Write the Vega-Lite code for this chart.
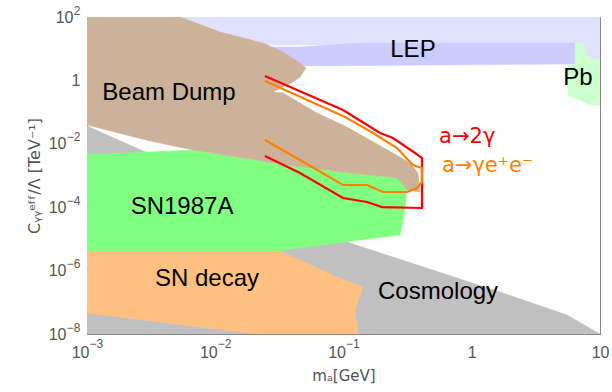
{
  "$schema": "https://vega.github.io/schema/vega-lite/v6.json",
  "width": 513,
  "height": 317,
  "autosize": {"type": "none"},
  "padding": {"left": 87, "top": 17, "right": 12, "bottom": 58},
  "background": "white",
  "config": {
    "view": {"stroke": "#888888", "strokeWidth": 1},
    "font": "Liberation Sans"
  },
  "resolve": {"axis": {"x": "independent", "y": "independent"}},
  "datasets": {
    "poly": [
      {"r": "Cosmology", "i": 1, "x": 0.001, "y": 0.0365},
      {"r": "Cosmology", "i": 2, "x": 0.1124, "y": 7.43e-6},
      {"r": "Cosmology", "i": 3, "x": 1.66, "y": 2.11e-7},
      {"r": "Cosmology", "i": 4, "x": 5.53, "y": 3.97e-8},
      {"r": "Cosmology", "i": 5, "x": 10, "y": 1e-8},
      {"r": "Cosmology", "i": 6, "x": 0.001, "y": 1e-8},

      {"r": "SNdecay", "i": 1, "x": 0.001, "y": 4.47e-6},
      {"r": "SNdecay", "i": 2, "x": 0.0303, "y": 4.47e-6},
      {"r": "SNdecay", "i": 3, "x": 0.0458, "y": 2.16e-6},
      {"r": "SNdecay", "i": 4, "x": 0.0889, "y": 6.28e-7},
      {"r": "SNdecay", "i": 5, "x": 0.1419, "y": 3.04e-7},
      {"r": "SNdecay", "i": 6, "x": 0.123, "y": 5.71e-8},
      {"r": "SNdecay", "i": 7, "x": 0.1298, "y": 1e-8},
      {"r": "SNdecay", "i": 8, "x": 0.0204, "y": 1e-8},
      {"r": "SNdecay", "i": 9, "x": 0.001, "y": 4.59e-8},

      {"r": "SN1987A", "i": 1, "x": 0.001, "y": 4.76e-3},
      {"r": "SN1987A", "i": 2, "x": 0.00138, "y": 4.76e-3},
      {"r": "SN1987A", "i": 3, "x": 0.00671, "y": 6.37e-3},
      {"r": "SN1987A", "i": 4, "x": 0.032, "y": 2.31e-3},
      {"r": "SN1987A", "i": 5, "x": 0.0939, "y": 1.29e-3},
      {"r": "SN1987A", "i": 6, "x": 0.261, "y": 8.34e-4},
      {"r": "SN1987A", "i": 7, "x": 0.313, "y": 4.33e-4},
      {"r": "SN1987A", "i": 8, "x": 0.302, "y": 8.16e-5},
      {"r": "SN1987A", "i": 9, "x": 0.276, "y": 1.33e-5},
      {"r": "SN1987A", "i": 10, "x": 0.1346, "y": 9.23e-6},
      {"r": "SN1987A", "i": 11, "x": 0.0458, "y": 5.17e-6},
      {"r": "SN1987A", "i": 12, "x": 0.0303, "y": 4.15e-6},
      {"r": "SN1987A", "i": 13, "x": 0.001, "y": 4.15e-6},

      {"r": "LEPlight", "i": 1, "x": 0.0031, "y": 100},
      {"r": "LEPlight", "i": 2, "x": 10, "y": 100},
      {"r": "LEPlight", "i": 3, "x": 10, "y": 3.8},
      {"r": "LEPlight", "i": 4, "x": 7.64, "y": 6.33},
      {"r": "LEPlight", "i": 5, "x": 7.24, "y": 13.1},
      {"r": "LEPlight", "i": 6, "x": 0.0031, "y": 13.1},

      {"r": "LEPdark", "i": 1, "x": 0.0109, "y": 11.3},
      {"r": "LEPdark", "i": 2, "x": 0.0458, "y": 11.3},
      {"r": "LEPdark", "i": 3, "x": 0.1346, "y": 15.1},
      {"r": "LEPdark", "i": 4, "x": 6.38, "y": 15.1},
      {"r": "LEPdark", "i": 5, "x": 6.38, "y": 3.29},
      {"r": "LEPdark", "i": 6, "x": 0.0458, "y": 2.85},
      {"r": "LEPdark", "i": 7, "x": 0.0109, "y": 2.85},

      {"r": "Pb", "i": 1, "x": 6.38, "y": 15.1},
      {"r": "Pb", "i": 2, "x": 7.37, "y": 15.1},
      {"r": "Pb", "i": 3, "x": 7.92, "y": 5.47},
      {"r": "Pb", "i": 4, "x": 10, "y": 4.4},
      {"r": "Pb", "i": 5, "x": 10, "y": 0.1675},
      {"r": "Pb", "i": 6, "x": 8.36, "y": 0.1675},
      {"r": "Pb", "i": 7, "x": 5.63, "y": 0.346},
      {"r": "Pb", "i": 8, "x": 5.63, "y": 3.06},
      {"r": "Pb", "i": 9, "x": 6.38, "y": 3.06},

      {"r": "BeamDump", "i": 1, "x": 0.001, "y": 100},
      {"r": "BeamDump", "i": 2, "x": 0.00531, "y": 100},
      {"r": "BeamDump", "i": 3, "x": 0.0109, "y": 33.6},
      {"r": "BeamDump", "i": 4, "x": 0.0236, "y": 15.1},
      {"r": "BeamDump", "i": 5, "x": 0.0338, "y": 7.87},
      {"r": "BeamDump", "i": 6, "x": 0.0458, "y": 3.54},
      {"r": "BeamDump", "i": 7, "x": 0.051, "y": 2.46},
      {"r": "BeamDump", "i": 8, "x": 0.0458, "y": 1.28},
      {"r": "BeamDump", "i": 9, "x": 0.0404, "y": 0.891},
      {"r": "BeamDump", "i": 10, "x": 0.0282, "y": 0.43},
      {"r": "BeamDump", "i": 11, "x": 0.0338, "y": 0.401},
      {"r": "BeamDump", "i": 12, "x": 0.0621, "y": 0.0937},
      {"r": "BeamDump", "i": 13, "x": 0.1065, "y": 0.0339},
      {"r": "BeamDump", "i": 14, "x": 0.161, "y": 0.01318},
      {"r": "BeamDump", "i": 15, "x": 0.243, "y": 5.13e-3},
      {"r": "BeamDump", "i": 16, "x": 0.33, "y": 2.48e-3},
      {"r": "BeamDump", "i": 17, "x": 0.381, "y": 1.2e-3},
      {"r": "BeamDump", "i": 18, "x": 0.395, "y": 3.02e-4},
      {"r": "BeamDump", "i": 19, "x": 0.313, "y": 3.49e-4},
      {"r": "BeamDump", "i": 20, "x": 0.261, "y": 8.34e-4},
      {"r": "BeamDump", "i": 21, "x": 0.0939, "y": 1.29e-3},
      {"r": "BeamDump", "i": 22, "x": 0.032, "y": 2.31e-3},
      {"r": "BeamDump", "i": 23, "x": 0.00671, "y": 6.37e-3},
      {"r": "BeamDump", "i": 24, "x": 0.0031, "y": 0.01225},
      {"r": "BeamDump", "i": 25, "x": 0.001, "y": 0.0392}
    ],
    "lines": [
      {"s": "a2g", "i": 1, "x": 0.0244, "y": 1.38},
      {"s": "a2g", "i": 2, "x": 0.0991, "y": 0.1164},
      {"s": "a2g", "i": 3, "x": 0.1927, "y": 0.0219},
      {"s": "a2g", "i": 4, "x": 0.243, "y": 0.01524},
      {"s": "a2g", "i": 5, "x": 0.361, "y": 5.13e-3},
      {"s": "a2g", "i": 6, "x": 0.409, "y": 3.57e-3},
      {"s": "a2g", "i": 7, "x": 0.409, "y": 9.44e-5},
      {"s": "a2g", "i": 8, "x": 0.1997, "y": 1.01e-4},
      {"s": "a2g", "i": 9, "x": 0.1525, "y": 1.46e-4},
      {"s": "a2g", "i": 10, "x": 0.0991, "y": 1.95e-4},
      {"s": "a2g", "i": 11, "x": 0.0458, "y": 1.2e-3},
      {"s": "a2g", "i": 12, "x": 0.0244, "y": 4.12e-3},

      {"s": "agee", "i": 1, "x": 0.0244, "y": 0.957},
      {"s": "agee", "i": 2, "x": 0.1028, "y": 0.07},
      {"s": "agee", "i": 3, "x": 0.17, "y": 0.0219},
      {"s": "agee", "i": 4, "x": 0.261, "y": 7.37e-3},
      {"s": "agee", "i": 5, "x": 0.348, "y": 2.14e-3},
      {"s": "agee", "i": 6, "x": 0.409, "y": 1.72e-3},
      {"s": "agee", "i": 7, "x": 0.409, "y": 6.23e-4},
      {"s": "agee", "i": 8, "x": 0.374, "y": 4.03e-4},
      {"s": "agee", "i": 9, "x": 0.313, "y": 3.02e-4},
      {"s": "agee", "i": 10, "x": 0.203, "y": 3.02e-4},
      {"s": "agee", "i": 11, "x": 0.1525, "y": 5.01e-4},
      {"s": "agee", "i": 12, "x": 0.0991, "y": 5.01e-4},
      {"s": "agee", "i": 13, "x": 0.0458, "y": 3.08e-3},
      {"s": "agee", "i": 14, "x": 0.0244, "y": 0.01318}
    ],
    "labels": [
      {"t": "Beam Dump", "x": 0.00436, "y": 0.241},
      {"t": "SN1987A", "x": 0.00551, "y": 6.1e-5},
      {"t": "SN decay", "x": 0.00863, "y": 3.27e-7},
      {"t": "Cosmology", "x": 0.546, "y": 1.27e-7},
      {"t": "LEP", "x": 0.348, "y": 5.47},
      {"t": "Pb", "x": 6.73, "y": 0.716}
    ],
    "siglabels": [
      {"t": "a→2γ", "s": "a2g", "x": 0.556, "y": 0.01059},
      {"t": "a→γe⁺e⁻", "s": "agee", "x": 0.586, "y": 0.00129}
    ]
  },
  "encoding": {
    "x": {"field": "x", "type": "quantitative", "scale": {"type": "log", "domain": [0.001, 10]}, "axis": null},
    "y": {"field": "y", "type": "quantitative", "scale": {"type": "log", "domain": [1e-8, 100]}, "axis": null}
  },
  "layer": [
    {"data": {"name": "poly"}, "transform": [{"filter": "datum.r == 'Cosmology'"}],
     "mark": {"type": "line", "interpolate": "linear-closed", "fill": "#c0c0c0", "stroke": "#c0c0c0", "strokeWidth": 0.5, "clip": true},
     "encoding": {
       "order": {"field": "i", "type": "quantitative"},
       "x": {
         "field": "x", "type": "quantitative",
         "scale": {"type": "log", "domain": [0.001, 10]},
         "axis": {
           "orient": "bottom",
           "values": [0.001, 0.01, 0.1, 1, 10],
           "labelExpr": "datum.value > 0.5 && datum.value < 5 ? '1' : '10'",
           "labelAlign": "right",
           "labelOffset": {"condition": [{"test": "datum.value > 5", "value": 9}, {"test": "datum.value > 0.5", "value": 4.5}], "value": 2},
           "title": "mₐ[GeV]",
           "grid": false,
           "tickSize": -6,
           "labelPadding": 16,
           "domainColor": "#888888",
           "tickColor": "#888888",
           "labelColor": "#555555",
           "labelFontSize": 16,
           "labelFont": "Liberation Sans",
           "titleFont": "DejaVu Sans",
           "titleFontSize": 15,
           "titleFontWeight": "normal",
           "titleColor": "#555555",
           "titlePadding": 8
         }
       },
       "y": {
         "field": "y", "type": "quantitative",
         "scale": {"type": "log", "domain": [1e-8, 100]},
         "axis": {
           "orient": "left",
           "values": [1e-8, 1e-6, 1e-4, 1e-2, 1, 100],
           "labelExpr": "datum.value > 0.5 && datum.value < 50 ? '1' : '10'",
           "labelAlign": "right",
           "labelPadding": {"condition": [{"test": "datum.value > 50", "value": 20}, {"test": "datum.value > 0.5", "value": 13}], "value": 27},
           "title": "Cᵧᵧᵉᶠᶠ/Λ [TeV⁻¹]",
           "grid": false,
           "tickSize": -6,
           "domainColor": "#888888",
           "tickColor": "#888888",
           "labelColor": "#555555",
           "labelFontSize": 16,
           "labelFont": "Liberation Sans",
           "titleFont": "DejaVu Sans",
           "titleFontSize": 16,
           "titleFontWeight": "normal",
           "titleColor": "#555555",
           "titlePadding": 6
         }
       }
     }},
    {"data": {"name": "poly"}, "transform": [{"filter": "datum.r == 'SNdecay'"}],
     "mark": {"type": "line", "interpolate": "linear-closed", "fill": "#ffc080", "stroke": "#ffc080", "strokeWidth": 0.5, "clip": true},
     "encoding": {
       "order": {"field": "i", "type": "quantitative"},
       "x": {
         "field": "x", "type": "quantitative",
         "scale": {"type": "log", "domain": [0.001, 10]},
         "axis": {
           "orient": "bottom",
           "values": [0.001, 0.01, 0.1],
           "labelExpr": "datum.value < 0.005 ? '−3' : datum.value < 0.05 ? '−2' : '−1'",
           "labelAlign": "left",
           "labelOffset": 2,
           "labelPadding": 4,
           "ticks": false,
           "tickSize": 0,
           "domain": false,
           "grid": false,
           "title": null,
           "labelColor": "#555555",
           "labelFontSize": 12,
           "labelFont": "Liberation Sans"
         }
       },
       "y": {
         "field": "y", "type": "quantitative",
         "scale": {"type": "log", "domain": [1e-8, 100]},
         "axis": {
           "orient": "left",
           "values": [1e-8, 1e-6, 1e-4, 1e-2, 100],
           "labelExpr": "datum.value > 50 ? '2' : datum.value > 0.005 ? '−2' : datum.value > 5e-5 ? '−4' : datum.value > 5e-7 ? '−6' : '−8'",
           "labelAlign": "right",
           "labelPadding": 7,
           "labelOffset": -7,
           "ticks": false,
           "tickSize": 0,
           "domain": false,
           "grid": false,
           "title": null,
           "labelColor": "#555555",
           "labelFontSize": 12,
           "labelFont": "Liberation Sans"
         }
       }
     }},
    {"data": {"name": "poly"}, "transform": [{"filter": "datum.r == 'SN1987A'"}],
     "mark": {"type": "line", "interpolate": "linear-closed", "fill": "#80ff80", "stroke": "#80ff80", "strokeWidth": 0.5, "clip": true},
     "encoding": {"order": {"field": "i", "type": "quantitative"}}},
    {"data": {"name": "poly"}, "transform": [{"filter": "datum.r == 'LEPlight'"}],
     "mark": {"type": "line", "interpolate": "linear-closed", "fill": "#e0e0ff", "stroke": "#e0e0ff", "strokeWidth": 0.5, "clip": true},
     "encoding": {"order": {"field": "i", "type": "quantitative"}}},
    {"data": {"name": "poly"}, "transform": [{"filter": "datum.r == 'LEPdark'"}],
     "mark": {"type": "line", "interpolate": "linear-closed", "fill": "#ccccff", "stroke": "#ccccff", "strokeWidth": 0.5, "clip": true},
     "encoding": {"order": {"field": "i", "type": "quantitative"}}},
    {"data": {"name": "poly"}, "transform": [{"filter": "datum.r == 'Pb'"}],
     "mark": {"type": "line", "interpolate": "linear-closed", "fill": "#ccffcc", "stroke": "#ccffcc", "strokeWidth": 0.5, "clip": true},
     "encoding": {"order": {"field": "i", "type": "quantitative"}}},
    {"data": {"name": "poly"}, "transform": [{"filter": "datum.r == 'BeamDump'"}],
     "mark": {"type": "line", "interpolate": "linear-closed", "fill": "#ccb299", "stroke": "#ccb299", "strokeWidth": 0.5, "clip": true},
     "encoding": {"order": {"field": "i", "type": "quantitative"}}},
    {"data": {"name": "lines"}, "transform": [{"filter": "datum.s == 'a2g'"}],
     "mark": {"type": "line", "stroke": "#ff0000", "strokeWidth": 2.2, "clip": true},
     "encoding": {"order": {"field": "i", "type": "quantitative"}}},
    {"data": {"name": "lines"}, "transform": [{"filter": "datum.s == 'agee'"}],
     "mark": {"type": "line", "stroke": "#ff8000", "strokeWidth": 2.2, "clip": true},
     "encoding": {"order": {"field": "i", "type": "quantitative"}}},
    {"data": {"name": "labels"},
     "mark": {"type": "text", "align": "center", "baseline": "alphabetic", "fontSize": 24, "font": "Liberation Sans", "color": "black"},
     "encoding": {"text": {"field": "t"}}},
    {"data": {"name": "siglabels"}, "transform": [{"filter": "datum.s == 'a2g'"}],
     "mark": {"type": "text", "align": "left", "baseline": "alphabetic", "fontSize": 21, "font": "DejaVu Sans", "color": "#ff0000"},
     "encoding": {"text": {"field": "t"}}},
    {"data": {"name": "siglabels"}, "transform": [{"filter": "datum.s == 'agee'"}],
     "mark": {"type": "text", "align": "left", "baseline": "alphabetic", "fontSize": 21, "font": "DejaVu Sans", "color": "#ff8000"},
     "encoding": {"text": {"field": "t"}}}
  ]
}
